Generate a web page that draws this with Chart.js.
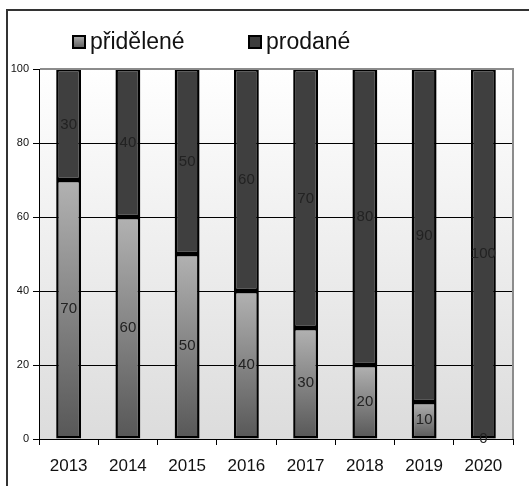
<!DOCTYPE html>
<html>
<head>
<meta charset="utf-8">
<script src="https://cdn.jsdelivr.net/npm/chart.js@4/dist/chart.umd.min.js"></script>
<style>
    html, body { margin: 0; padding: 0; background: #fff; }
    #wrap { width: 529px; height: 486px; position: relative; }
</style>
</head>
<body>
<div id="wrap"><canvas id="chart"></canvas></div>
<script>
const years = ['2013', '2014', '2015', '2016', '2017', '2018', '2019', '2020'];
const pridelene = [70, 60, 50, 40, 30, 20, 10, 0];
const prodane = [30, 40, 50, 60, 70, 80, 90, 100];
const yTicks = [0, 20, 40, 60, 80, 100];

const FONT = '"Liberation Sans", Arial, sans-serif';

function lightGradient(ctx) {
    const chart = ctx.chart;
    const y = chart.scales.y;
    if (!y || ctx.type !== 'data') return '#888888';
    const top = y.getPixelForValue(pridelene[ctx.dataIndex]);
    const bot = y.getPixelForValue(0);
    if (!isFinite(top) || !isFinite(bot) || bot - top < 1) return '#5c5c5c';
    const g = chart.ctx.createLinearGradient(0, top, 0, bot);
    g.addColorStop(0, '#b2b2b2');
    g.addColorStop(1, '#575757');
    return g;
}

// background of the plot area, white fading into light grey
const plotBackground = {
    id: 'plotBackground',
    beforeDraw(chart) {
        const { ctx, chartArea: a } = chart;
        const g = ctx.createLinearGradient(0, a.top, 0, a.bottom);
        g.addColorStop(0, '#ffffff');
        g.addColorStop(1, '#dcdcdc');
        ctx.save();
        ctx.fillStyle = g;
        ctx.fillRect(a.left, a.top, a.right - a.left, a.bottom - a.top);
        ctx.restore();
    },
    afterDraw(chart) {
        const { ctx, chartArea: a } = chart;
        ctx.save();
        // grey border top + right of the plot
        ctx.strokeStyle = '#8c8c8c';
        ctx.lineWidth = 2;
        ctx.beginPath();
        ctx.moveTo(a.left + 1, a.top);
        ctx.lineTo(a.right, a.top);
        ctx.lineTo(a.right, a.bottom);
        ctx.stroke();
        // outer frame
        ctx.strokeStyle = '#333333';
        ctx.lineWidth = 2;
        ctx.beginPath();
        ctx.moveTo(7, chart.height);
        ctx.lineTo(7, 10);
        ctx.lineTo(chart.width, 10);
        ctx.stroke();
        ctx.restore();
    }
};

const valueLabels = {
    id: 'valueLabels',
    afterDatasetsDraw(chart) {
        const ctx = chart.ctx;
        ctx.save();
        ctx.font = '15px ' + FONT;
        ctx.fillStyle = '#222222';
        ctx.textAlign = 'center';
        ctx.textBaseline = 'middle';
        chart.data.datasets.forEach((ds, di) => {
            const meta = chart.getDatasetMeta(di);
            meta.data.forEach((bar, i) => {
                const cy = (bar.y + bar.base) / 2;
                ctx.fillText(String(ds.data[i]), bar.x, cy);
            });
        });
        ctx.restore();
    }
};

const legendBoxes = {
    id: 'legendBoxes',
    afterDraw(chart) {
        const ctx = chart.ctx;
        const xs = [72, 248];
        ctx.save();
        ctx.font = '23px ' + FONT;
        ctx.textBaseline = 'alphabetic';
        ctx.textAlign = 'left';
        chart.data.datasets.forEach((ds, di) => {
            const x = xs[di];
            const y = 35;
            const s = 14;
            let fill;
            if (di === 0) {
                fill = ctx.createLinearGradient(0, y, 0, y + s);
                fill.addColorStop(0, '#b2b2b2');
                fill.addColorStop(1, '#575757');
            } else {
                fill = '#3d3d3d';
            }
            ctx.fillStyle = fill;
            ctx.fillRect(x, y, s, s);
            ctx.strokeStyle = '#000000';
            ctx.lineWidth = 2;
            ctx.strokeRect(x + 1, y + 1, s - 2, s - 2);
            ctx.fillStyle = '#111111';
            ctx.fillText(ds.label, x + s + 4, y + 14);
        });
        ctx.restore();
    }
};

const chart = new Chart(document.getElementById('chart'), {
    type: 'bar',
    data: {
        labels: years,
        datasets: [
            {
                label: 'přidělené',
                data: pridelene,
                backgroundColor: lightGradient,
                borderColor: '#000000',
                borderWidth: 2.5,
                borderSkipped: false
            },
            {
                label: 'prodané',
                data: prodane,
                backgroundColor: '#3f3f3f',
                borderColor: '#000000',
                borderWidth: 2.5,
                borderSkipped: false
            }
        ]
    },
    options: {
        responsive: true,
        maintainAspectRatio: false,
        animation: false,
        layout: { padding: { left: 0, right: 16, top: 69, bottom: 0 } },
        datasets: { bar: { categoryPercentage: 1, barPercentage: 0.42 } },
        plugins: {
            legend: { display: false },
            tooltip: { enabled: false }
        },
        scales: {
            x: {
                stacked: true,
                offset: true,
                grid: {
                    offset: true,
                    drawOnChartArea: false,
                    tickLength: 6,
                    tickColor: '#000000'
                },
                border: { display: true, color: '#000000', width: 1 },
                ticks: {
                    color: '#111111',
                    font: { family: FONT, size: 17 },
                    padding: 11,
                    maxRotation: 0
                },
                afterFit(scale) { scale.height = 47; }
            },
            y: {
                stacked: true,
                min: 0,
                max: 100,
                afterBuildTicks(scale) {
                    scale.ticks = yTicks.map(v => ({ value: v }));
                },
                grid: {
                    color: '#000000',
                    lineWidth: 1,
                    tickLength: 6,
                    tickColor: '#000000'
                },
                border: { display: true, color: '#000000', width: 1 },
                ticks: {
                    color: '#111111',
                    font: { family: FONT, size: 11 },
                    padding: 4
                },
                afterFit(scale) { scale.width = 39; }
            }
        }
    },
    plugins: [plotBackground, valueLabels, legendBoxes]
});
</script>
</body>
</html>
